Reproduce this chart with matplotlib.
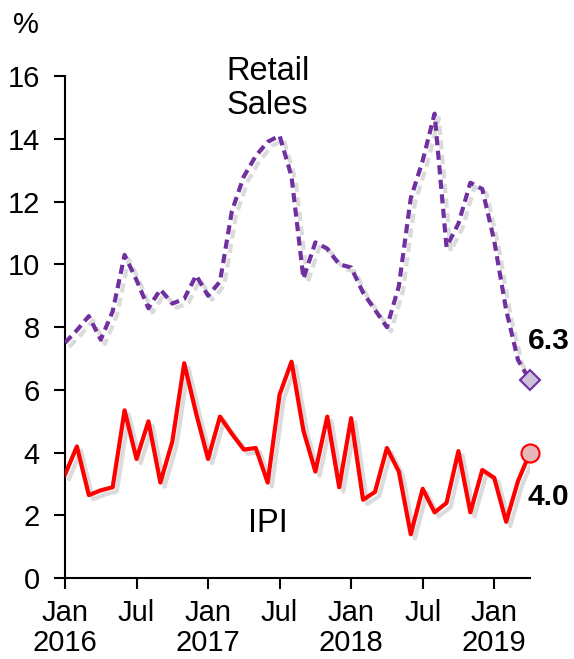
import numpy as np
import matplotlib
matplotlib.use('Agg')
import matplotlib.pyplot as plt
import matplotlib.patheffects as pe

plt.rcParams['font.family'] = ['Liberation Sans', 'DejaVu Sans']

# monthly, Jan 2016 .. Apr 2019 (% y/y)
retail = [7.5, 7.9, 8.35, 7.6, 8.5, 10.3, 9.5, 8.6, 9.2, 8.75, 8.9, 9.65,
          9.0, 9.45, 11.7, 12.8, 13.45, 13.9, 14.1, 12.8, 9.55, 10.7, 10.5, 10.0,
          9.9, 9.1, 8.55, 8.0, 9.3, 12.1, 13.3, 14.8, 10.55, 11.3, 12.6, 12.4,
          10.75, 8.55, 6.95, 6.3]
ipi = [3.3, 4.2, 2.65, 2.8, 2.9, 5.35, 3.8, 5.0, 3.05, 4.35, 6.85, 5.25,
       3.8, 5.15, 4.6, 4.1, 4.15, 3.05, 5.85, 6.9, 4.7, 3.4, 5.15, 2.9,
       5.1, 2.5, 2.75, 4.15, 3.4, 1.4, 2.85, 2.1, 2.4, 4.05, 2.1, 3.45,
       3.2, 1.8, 3.1, 4.0]
tick_pos = [0, 6, 12, 18, 24, 30, 36]
tick_lbl = ['Jan\n2016', 'Jul', 'Jan\n2017', 'Jul', 'Jan\n2018', 'Jul', 'Jan\n2019']

purple = '#7030A0'
red = '#FF0000'

fig = plt.figure(figsize=(5.74, 6.59), dpi=100)
ax = fig.add_axes([0.1132, 0.1225, 0.8101, 0.7622])

x = np.arange(len(retail))
shadow = [pe.SimpleLineShadow(offset=(3, -3), shadow_color='#888888', alpha=0.3),
          pe.Normal()]

ax.plot(x, retail, color=purple, lw=3, ls=(0, (2.2, 1.3)),
        path_effects=shadow, zorder=3)
ax.plot(x, ipi, color=red, lw=3, path_effects=shadow, zorder=3)

ax.plot(x[-1], retail[-1], marker='D', ms=10, mfc='#CCC0DA', mec=purple,
        mew=1.5, zorder=5, clip_on=False)
ax.plot(x[-1], ipi[-1], marker='o', ms=13, mfc='#E6B9B8', mec=red,
        mew=1.5, zorder=5, clip_on=False)

ax.text(x[-1] - 0.2, retail[-1] + 1.25, f'{retail[-1]:.1f}', fontsize=21.5,
        fontweight='bold', ha='left', va='center')
ax.text(x[-1] - 0.2, ipi[-1] - 1.4, f'{ipi[-1]:.1f}', fontsize=21.5,
        fontweight='bold', ha='left', va='center')

ax.text(17, 15.6, 'Retail\nSales', fontsize=23.5, ha='center', va='center',
        linespacing=1.12)
ax.text(17, 1.75, 'IPI', fontsize=23.5, ha='center', va='center')

ax.set_xlim(0, 39)
ax.set_ylim(0, 16)
ax.set_yticks(range(0, 17, 2))
ax.set_xticks(tick_pos)
ax.set_xticklabels(tick_lbl, linespacing=1.1)
ax.tick_params(labelsize=21, length=8, width=1.5, direction='out', pad=7)
ax.tick_params(axis='y', pad=10)
for s in ['top', 'right']:
    ax.spines[s].set_visible(False)
for s in ['left', 'bottom']:
    ax.spines[s].set_linewidth(1.5)

fig.text(13 / 574, 1 - 25 / 659, '%', fontsize=21, ha='left', va='center')

fig.savefig('out.png', dpi=100)
